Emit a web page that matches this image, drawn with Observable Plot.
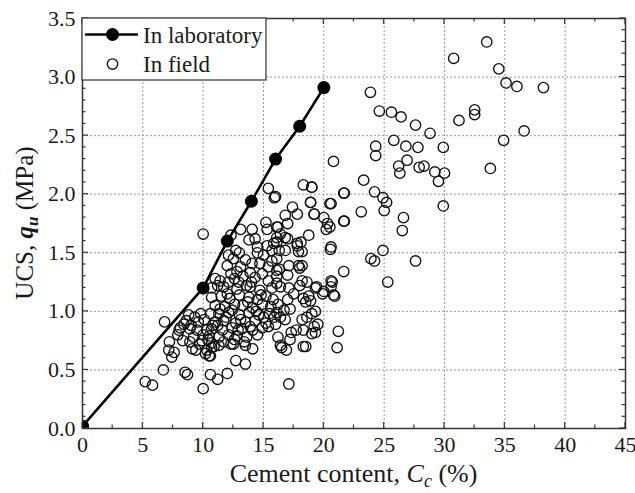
<!DOCTYPE html>
<html><head><meta charset="utf-8">
<script src="https://cdn.jsdelivr.net/npm/d3@7"></script>
<script src="https://cdn.jsdelivr.net/npm/@observablehq/plot@0.6"></script>
<style>body{margin:0;background:#fff} #chart{width:635px;height:493px}</style>
</head><body><div id="chart"></div>
<script>
// Laboratory series
const labCement = [0, 10, 12, 14, 16, 18, 20];
const labUCS = [0.02, 1.2, 1.6, 1.94, 2.3, 2.58, 2.91];

// Field series [cement %, UCS MPa]
const fieldLow = [[5.2,0.40],[5.8,0.37],[6.7,0.50],[6.8,0.91],[8.5,0.48],[8.7,0.46],[10.0,0.34],[10.6,0.46],[11.2,0.42],[12.0,0.47],[12.7,0.58],[13.5,0.55],[17.1,0.38],[10.0,1.66],[7.2,0.74],[7.15,0.67],[7.6,0.65],[7.4,0.61],[7.9,0.80],[8.0,0.84],[8.1,0.86],[8.3,0.75],[8.4,0.89],[8.6,0.92],[8.8,0.97],[8.9,0.85],[8.9,0.74],[9.0,0.88],[9.1,0.68],[9.2,0.78],[9.3,0.95],[9.4,0.67],[9.5,0.84],[9.6,0.91],[9.7,0.72],[9.8,0.98],[9.9,0.75],[10.0,0.80],[10.1,0.93],[10.2,0.64],[10.3,0.84],[10.3,0.67],[10.4,0.76],[10.5,0.62],[10.6,0.98],[10.8,0.88],[10.9,0.70]];
const fieldCore = [[10.7,0.69],[11.3,0.71],[10.6,0.62],[12.3,0.72],[13.5,0.71],[14.1,0.68],[16.4,0.71],[10.7,1.20],[11.7,1.21],[12.8,1.19],[13.9,1.21],[14.7,1.18],[15.7,1.20],[10.7,1.12],[11.5,1.13],[12.2,1.11],[13.0,1.14],[13.8,1.12],[14.5,1.10],[15.2,1.13],[11.0,1.05],[11.8,1.04],[12.6,1.06],[13.3,1.05],[14.1,1.03],[14.9,1.06],[15.6,1.04],[11.3,0.98],[12.1,0.99],[13.0,0.97],[13.8,0.99],[14.6,0.97],[15.5,0.98],[11.0,0.91],[11.7,0.92],[12.7,0.90],[13.5,0.91],[14.3,0.92],[15.2,0.90],[16.0,0.89],[10.7,0.85],[11.6,0.84],[12.4,0.86],[13.2,0.85],[14.1,0.84],[14.9,0.86],[10.5,0.79],[11.3,0.78],[12.1,0.80],[12.8,0.79],[13.6,0.78],[14.5,0.80],[10.7,0.73],[11.7,0.74],[12.5,0.72],[13.4,0.74],[11.2,0.88],[11.9,0.95],[12.4,1.01],[12.9,0.84],[13.7,1.08],[14.4,1.00],[15.0,0.95],[15.8,1.10],[15.4,0.87],[13.1,0.93],[12.0,1.15],[11.4,1.02],[14.8,1.14],[12.6,0.76],[13.9,0.87],[15.9,0.95]];
const fieldMid = [[12.1,1.48],[12.7,1.52],[12.5,1.45],[12.0,1.39],[12.3,1.32],[12.8,1.34],[12.1,1.25],[12.95,1.25],[11.0,1.28],[11.4,1.26],[13.6,1.22],[14.05,1.41],[14.3,1.29],[14.7,1.41],[14.9,1.32],[15.4,1.38],[15.7,1.43],[16.1,1.35],[15.4,1.26],[16.1,1.24],[13.8,1.61],[14.3,1.62],[15.3,1.56],[15.85,1.58],[15.7,1.52],[16.3,1.52],[13.3,1.30],[13.5,1.44],[13.1,1.38],[13.9,1.33],[14.5,1.50],[15.0,1.48],[14.0,1.25],[13.0,1.50],[12.6,1.28],[11.2,1.22]];
const fieldUpper = [[12.3,1.65],[13.1,1.70],[14.06,1.70],[15.4,2.05],[15.9,1.97],[15.2,1.76],[15.3,1.70],[16.1,1.72],[16.8,1.82],[17.4,1.89],[17.8,1.83],[18.3,2.08],[19.0,2.06],[18.9,1.93],[19.2,1.83],[17.0,1.75],[16.4,1.66],[17.0,1.62],[18.75,1.65],[16.1,1.59],[17.8,1.56],[14.5,1.55],[16.0,1.98],[16.2,1.72],[20.5,1.92],[21.65,2.01],[21.65,1.77],[20.0,1.80],[20.3,1.75],[20.5,1.72],[20.2,1.70],[16.1,1.63],[16.8,1.63],[17.8,1.58],[17.9,1.51],[16.8,1.52],[16.1,1.45],[20.55,1.53],[17.1,1.39],[17.9,1.39],[18.0,1.37],[16.3,1.36],[17.0,1.31],[16.1,1.30],[21.65,1.34],[17.1,1.20],[18.0,1.22],[18.6,1.25],[19.3,1.20],[20.6,1.26],[20.6,1.21],[16.4,1.21]];
const fieldEdge = [[20.9,1.13],[19.9,1.15],[19.4,1.21],[18.2,1.26],[18.75,1.13],[18.9,1.09],[19.3,1.00],[18.6,0.95],[19.5,0.89],[19.3,0.82],[18.3,0.84],[18.5,0.70],[21.2,0.83],[21.1,0.69],[18.2,1.51],[18.2,1.39],[18.1,1.59],[17.5,1.15],[20.0,1.17],[20.8,1.14],[16.2,1.06],[16.7,1.01],[17.0,1.10],[17.2,1.02],[16.4,0.95],[16.8,0.93],[16.1,0.99],[18.3,1.11],[18.5,1.08],[19.0,0.98],[18.2,0.93],[19.2,0.87],[19.0,0.81],[17.7,0.84],[17.3,0.82],[17.2,0.76],[16.2,0.78],[16.5,0.69],[16.9,0.67],[18.3,0.70]];
const fieldRight = [[30.76,3.16],[33.5,3.30],[34.5,3.07],[35.1,2.95],[36.0,2.92],[38.2,2.91],[23.86,2.87],[24.6,2.71],[25.6,2.70],[26.4,2.66],[27.6,2.59],[28.8,2.52],[32.5,2.72],[32.5,2.68],[31.2,2.63],[36.6,2.54],[34.9,2.46],[25.8,2.46],[24.3,2.41],[24.3,2.33],[26.8,2.41],[27.8,2.40],[29.9,2.40],[20.8,2.28],[26.9,2.29],[26.2,2.24],[26.3,2.18],[27.9,2.23],[28.3,2.24],[29.2,2.19],[30.0,2.18],[29.5,2.11],[33.8,2.22],[23.3,2.12],[21.7,2.01],[24.2,2.02],[24.9,1.97],[25.2,1.93],[25.0,1.86],[23.1,1.85],[29.9,1.90],[26.6,1.80],[26.5,1.69],[21.7,1.77],[20.6,1.92],[20.6,1.55],[24.9,1.52],[23.9,1.45],[24.2,1.43],[27.6,1.43],[25.3,1.25],[20.7,1.25],[19.2,1.83],[18.9,1.93],[19.0,2.06]];

// Axis ticks
const xTicks = [0, 5, 10, 15, 20, 25, 30, 35, 40, 45];
const xMinorTicks = [2.5, 7.5, 12.5, 17.5, 22.5, 27.5, 32.5, 37.5, 42.5];
const yTicks = [0, 0.5, 1.0, 1.5, 2.0, 2.5, 3.0, 3.5];
const yMinorTicks = [0.1,0.2,0.3,0.4,0.6,0.7,0.8,0.9,1.1,1.2,1.3,1.4,1.6,1.7,1.8,1.9,2.1,2.2,2.3,2.4,2.6,2.7,2.8,2.9,3.1,3.2,3.3,3.4];

const lab = labCement.map((c, i) => ({c, q: labUCS[i]}));
const field = [...fieldLow, ...fieldCore, ...fieldMid, ...fieldUpper, ...fieldEdge, ...fieldRight].map(([c, q]) => ({c, q}));

const font = "'Liberation Serif','Times New Roman',serif";
const ink = "#1a1a1a";

const plot = Plot.plot({
  width: 635, height: 493,
  marginLeft: 82, marginRight: 10, marginTop: 18, marginBottom: 65,
  style: {fontFamily: font, fontSize: "22px", color: ink, background: "#fff"},
  x: {domain: [0, 45], label: null},
  y: {domain: [0, 3.5], label: null},
  marks: [
    Plot.gridX(xTicks.slice(1, -1), {stroke: "#999", strokeOpacity: 1, strokeDasharray: "2,2", strokeWidth: 1}),
    Plot.gridY(yTicks.slice(1, -1), {stroke: "#999", strokeOpacity: 1, strokeDasharray: "2,2", strokeWidth: 1}),
    Plot.axisX(xTicks, {anchor: "bottom", tickSize: 0, tickPadding: 8, tickFormat: d => String(d), fontSize: 22}),
    Plot.axisY(yTicks, {anchor: "left", tickSize: 0, tickPadding: 7, tickFormat: d => d.toFixed(1), fontSize: 22}),
    Plot.dot(field, {x: "c", y: "q", r: 5.2, stroke: "#111", strokeWidth: 1.35, fill: "none"}),
    Plot.line(lab, {x: "c", y: "q", stroke: "#000", strokeWidth: 2.6, clip: true}),
    Plot.dot(lab, {x: "c", y: "q", r: 6.5, fill: "#000", stroke: "none", clip: true}),
    Plot.frame({stroke: "#333", strokeWidth: 1.5})
  ]
});
document.getElementById("chart").append(plot);

// inward mirrored ticks, legend and rich axis titles
const svg = d3.select(plot);
const X = v => plot.scale("x").apply(v), Y = v => plot.scale("y").apply(v);
const xa = X(0), xb = X(45), ya = Y(0), yb = Y(3.5);
const tg = svg.append("g").attr("stroke", "#333").attr("stroke-width", 1.2);
const tick = (x1, y1, x2, y2) => tg.append("line").attr("x1", x1).attr("y1", y1).attr("x2", x2).attr("y2", y2);
xTicks.forEach(v => { tick(X(v), ya, X(v), ya - 6); tick(X(v), yb, X(v), yb + 6); });
xMinorTicks.forEach(v => { tick(X(v), ya, X(v), ya - 3.5); tick(X(v), yb, X(v), yb + 3.5); });
yTicks.forEach(v => { tick(xa, Y(v), xa + 6, Y(v)); tick(xb, Y(v), xb - 6, Y(v)); });
yMinorTicks.forEach(v => { tick(xa, Y(v), xa + 3.5, Y(v)); tick(xb, Y(v), xb - 3.5, Y(v)); });

// legend
const lg = svg.append("g").attr("font-family", font).attr("font-size", 23).attr("fill", ink).attr("text-anchor", "start");
lg.append("rect").attr("x", xa).attr("y", yb).attr("width", 184).attr("height", 62).attr("fill", "#fff").attr("stroke", "#333").attr("stroke-width", 1.2);
lg.append("line").attr("x1", xa + 3).attr("x2", xa + 56).attr("y1", yb + 16.5).attr("y2", yb + 16.5).attr("stroke", "#000").attr("stroke-width", 2.6);
lg.append("circle").attr("cx", xa + 30.5).attr("cy", yb + 16.5).attr("r", 6.5).attr("fill", "#000");
lg.append("text").attr("x", xa + 61).attr("y", yb + 25).text("In laboratory");
lg.append("circle").attr("cx", xa + 30.5).attr("cy", yb + 46).attr("r", 5.2).attr("fill", "none").attr("stroke", "#111").attr("stroke-width", 1.35);
lg.append("text").attr("x", xa + 61).attr("y", yb + 54).text("In field");

// axis titles
const xt = svg.append("text").attr("font-family", font).attr("font-size", 26).attr("fill", ink)
  .attr("text-anchor", "middle").attr("x", (xa + xb) / 2).attr("y", 482);
xt.append("tspan").text("Cement content, ");
xt.append("tspan").attr("font-style", "italic").text("C");
xt.append("tspan").attr("font-style", "italic").attr("font-size", 18).attr("dy", 5).text("c");
xt.append("tspan").attr("dy", -5).text(" (%)");

const yt = svg.append("text").attr("font-family", font).attr("font-size", 25).attr("fill", ink)
  .attr("text-anchor", "middle").attr("transform", `translate(33,${(ya + yb) / 2}) rotate(-90)`);
yt.append("tspan").text("UCS, ");
yt.append("tspan").attr("font-style", "italic").attr("font-weight", "bold").text("q");
yt.append("tspan").attr("font-style", "italic").attr("font-weight", "bold").attr("font-size", 17).attr("dy", 5).text("u");
yt.append("tspan").attr("dy", -5).text(" (MPa)");
</script>
</body></html>
